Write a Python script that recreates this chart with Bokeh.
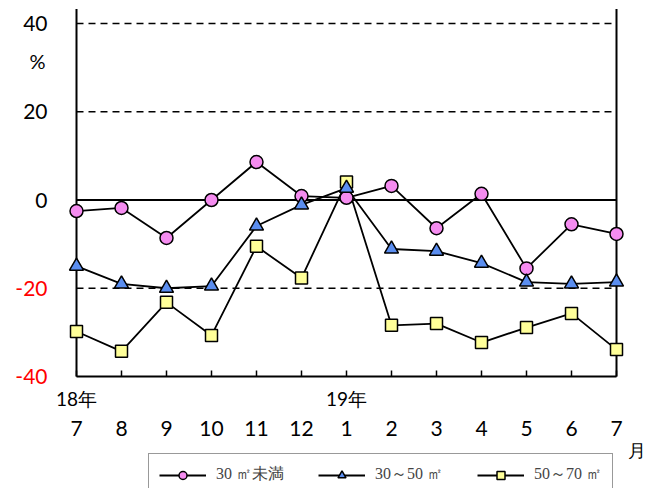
from bokeh.plotting import figure
from bokeh.models import Range1d, Legend, LegendItem
from bokeh.core.properties import value
from bokeh.embed import file_html
from bokeh.resources import INLINE

months = ["7", "8", "9", "10", "11", "12", "1", "2", "3", "4", "5", "6", "7"]
year_pos = [0, 6]
year_text = ["18年", "19年"]
series_names = ["30 ㎡未満", "30～50 ㎡", "50～70 ㎡"]
s_small = [-2.5, -1.8, -8.6, 0.0, 8.6, 0.9, 0.5, 3.2, -6.4, 1.4, -15.5, -5.5, -7.7]
s_mid = [-15.0, -19.0, -20.0, -19.5, -5.9, -1.1, 2.7, -11.1, -11.6, -14.3, -18.6, -19.0, -18.6]
s_large = [-29.8, -34.3, -23.2, -30.7, -10.5, -17.7, 4.1, -28.4, -28.0, -32.3, -28.9, -25.7, -33.9]
y_ticks = [40, 20, 0, -20, -40]
y_top = 43.3
y_bot = -40
x_end = len(months) - 1

xs = list(range(len(months)))
FONT = "Lato"
SERIF = "Liberation Serif"

W, H = 646, 488
px_x = 45.0
px_y = 4.4125
x0_px = 76.0
y0_px = 199.5

p = figure(width=W, height=H, output_backend="svg", toolbar_location=None,
           x_range=Range1d(-x0_px / px_x, (W - x0_px) / px_x),
           y_range=Range1d(-(H - y0_px) / px_y, y0_px / px_y),
           min_border=0)
p.axis.visible = False
p.grid.visible = False
p.outline_line_color = None

dy = 1 / px_y
dx = 1 / px_x

# dashed gridlines
grid_vals = [t for t in y_ticks if t not in (0, y_bot)]
p.segment(x0=[0] * len(grid_vals), y0=grid_vals, x1=[x_end] * len(grid_vals), y1=grid_vals,
          line_color="black", line_width=1.5, line_dash="7 5")
# zero line
p.segment(x0=[0], y0=[0], x1=[x_end], y1=[0], line_color="black", line_width=2)
# frame: left, right, bottom
p.segment(x0=[0, x_end], y0=[y_bot, y_bot], x1=[0, x_end], y1=[y_top, y_top],
          line_color="black", line_width=2)
p.segment(x0=[0], y0=[y_bot], x1=[x_end], y1=[y_bot], line_color="black", line_width=2)
# x ticks (inward)
p.segment(x0=xs, y0=[y_bot] * len(xs), x1=xs, y1=[y_bot + 6 * dy] * len(xs),
          line_color="black", line_width=1.5)

r1l = p.line(xs, s_small, line_color="black", line_width=1.8)
r2l = p.line(xs, s_mid, line_color="black", line_width=1.8)
r3l = p.line(xs, s_large, line_color="black", line_width=1.8)
r3m = p.scatter(xs, s_large, marker="square", size=12, fill_color="#FFFF99", line_color="black", line_width=1.5)
r1m = p.scatter(xs, s_small, marker="circle", size=13, fill_color="#F58CF0", line_color="black", line_width=1.5)
r2m = p.scatter(xs, s_mid, marker="triangle", size=14, fill_color="#5B8EF0", line_color="black", line_width=1.5)

# y tick labels
p.text(x=[-29 * dx] * len(y_ticks), y=y_ticks, text=[str(t) for t in y_ticks],
       text_align="right", text_baseline="middle", text_font=value(FONT), text_font_size="21px",
       text_color=["red" if t < 0 else "black" for t in y_ticks])
p.text(x=[-39 * dx], y=[y_ticks[0] - 37 * dy], text=["%"], text_align="center",
       text_baseline="middle", text_font=value(FONT), text_font_size="20px", text_color="black")
# x tick labels
p.text(x=xs, y=[y_bot - 52 * dy] * len(xs), text=months, text_align="center",
       text_baseline="middle", text_font=value(FONT), text_font_size="21px", text_color="black")
p.text(x=year_pos, y=[y_bot - 22 * dy] * len(year_pos), text=year_text, text_align="center",
       text_baseline="middle", text_font=value(FONT), text_font_size="19px", text_color="black")
p.text(x=[x_end + 20 * dx], y=[y_bot - 73 * dy], text=["月"], text_align="center",
       text_baseline="middle", text_font=value(FONT), text_font_size="18px", text_color="black")

legend = Legend(items=[LegendItem(label=series_names[0], renderers=[r1l, r1m]),
                       LegendItem(label=series_names[1], renderers=[r2l, r2m]),
                       LegendItem(label=series_names[2], renderers=[r3l, r3m])],
                orientation="horizontal", location=(148, -8))
legend.glyph_width = 47
legend.glyph_height = 20
legend.label_standoff = 10
legend.spacing = 34
legend.padding = 10
legend.margin = 0
legend.label_text_font = SERIF
legend.label_text_font_size = "16px"
legend.border_line_color = "#333333"
legend.border_line_width = 1.5
legend.background_fill_alpha = 1
p.add_layout(legend, "center")

open("out.html", "w").write(file_html(p, INLINE))
